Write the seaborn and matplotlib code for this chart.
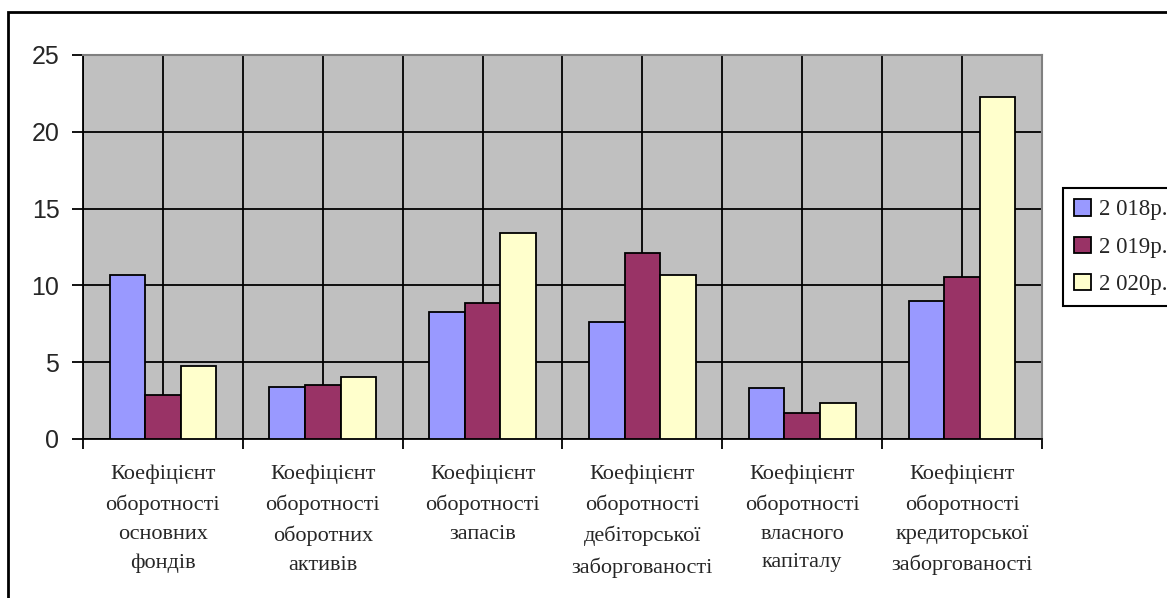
import numpy as np
import pandas as pd
import matplotlib
matplotlib.use("Agg")
import matplotlib.pyplot as plt
import seaborn as sns
from matplotlib.patches import Rectangle, Patch
from matplotlib.ticker import FixedLocator, NullFormatter

categories = [
    "Коефіцієнт\nоборотності\nосновних\nфондів",
    "Коефіцієнт\nоборотності\nоборотних\nактивів",
    "Коефіцієнт\nоборотності\nзапасів",
    "Коефіцієнт\nоборотності\nдебіторської\nзаборгованості",
    "Коефіцієнт\nоборотності\nвласного\nкапіталу",
    "Коефіцієнт\nоборотності\nкредиторської\nзаборгованості",
]
years = ["2 018р.", "2 019р.", "2 020р."]
values_2018 = [10.66, 3.37, 8.29, 7.64, 3.34, 8.96]
values_2019 = [2.84, 3.50, 8.83, 12.13, 1.67, 10.53]
values_2020 = [4.77, 4.02, 13.39, 10.66, 2.34, 22.27]
y_ticks = [0, 5, 10, 15, 20, 25]

colors = ["#9999FF", "#993366", "#FFFFCC"]

df = pd.DataFrame({
    "category": categories * 3,
    "year": [years[0]] * 6 + [years[1]] * 6 + [years[2]] * 6,
    "value": values_2018 + values_2019 + values_2020,
})

sns.set_style("white")
plt.rcParams["font.family"] = ["Liberation Sans", "DejaVu Sans"]

fig = plt.figure(figsize=(11.67, 5.98), dpi=100)
ax = fig.add_axes([83 / 1167, 1 - 439 / 598, (1042 - 83) / 1167, (439 - 55) / 598])
ax.set_facecolor("#C0C0C0")

sns.barplot(
    data=df, x="category", y="value", hue="year", order=categories,
    hue_order=years, palette=colors, width=0.667, edgecolor="black",
    linewidth=1.3, saturation=1, ax=ax, legend=False, zorder=3,
)

ax.set_xlim(-0.5, len(categories) - 0.5)
ax.set_ylim(0, 25)
ax.set_xlabel("")
ax.set_ylabel("")

# y axis: ticks every 5 with horizontal gridlines
ax.set_yticks(y_ticks)
ax.set_yticklabels([str(t) for t in y_ticks], fontsize=18)
ax.tick_params(axis="y", which="major", direction="out", length=8, width=1.3,
               color="black", pad=9, left=True)

# x axis: tick marks at category boundaries, labels at category centers
bounds = np.arange(len(categories) + 1) - 0.5
centers = np.arange(len(categories))
ax.xaxis.set_major_locator(FixedLocator(bounds))
ax.xaxis.set_major_formatter(NullFormatter())
ax.xaxis.set_minor_locator(FixedLocator(centers))
ax.set_xticklabels(categories, minor=True, fontsize=16,
                   family=["Liberation Serif", "DejaVu Serif"], linespacing=1.7)
ax.tick_params(axis="x", which="major", direction="out", length=7, width=1.3,
               color="black", bottom=True)
ax.tick_params(axis="x", which="minor", length=0, pad=18, bottom=True)

ax.grid(True, which="major", axis="both", color="black", linewidth=1.3, zorder=1)
ax.grid(True, which="minor", axis="x", color="black", linewidth=1.3, zorder=1)
ax.set_axisbelow(True)

for side in ["left", "bottom"]:
    ax.spines[side].set_color("black")
    ax.spines[side].set_linewidth(1.3)
for side in ["top", "right"]:
    ax.spines[side].set_color("#808080")
    ax.spines[side].set_linewidth(1.5)

handles = [Patch(facecolor=c, edgecolor="black", linewidth=1.3) for c in colors]
leg = fig.legend(
    handles, years, loc="upper left",
    bbox_to_anchor=(1063 / 1167, 1 - 188 / 598), borderaxespad=0,
    frameon=True, fancybox=False, edgecolor="black", framealpha=1,
    prop={"family": ["Liberation Serif", "DejaVu Serif"], "size": 16.5},
    handlelength=0.7, handleheight=0.7, handletextpad=0.35,
    labelspacing=0.7, borderpad=0.5,
)
leg.get_frame().set_linewidth(1.5)

# outer chart border
fig.patches.append(Rectangle((8 / 1167, -0.1), 1.2, 1 - 12 / 598 + 0.1,
                             transform=fig.transFigure, fill=False,
                             edgecolor="black", linewidth=2, zorder=0))

fig.savefig("out.png", dpi=100)
